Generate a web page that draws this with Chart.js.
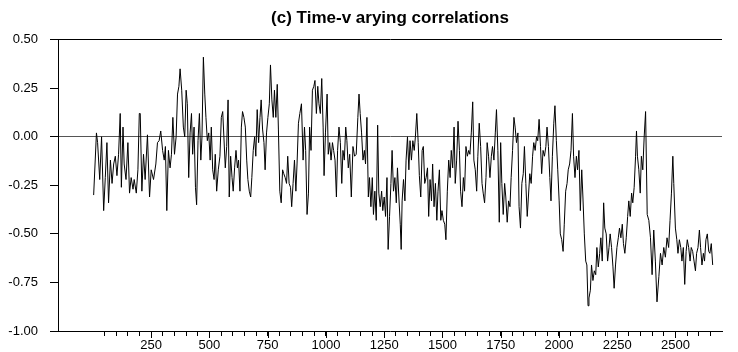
<!DOCTYPE html>
<html>
<head>
<meta charset="utf-8">
<script src="https://cdn.jsdelivr.net/npm/chart.js@4.4.0/dist/chart.umd.min.js"></script>
<style>
html, body { margin: 0; padding: 0; background: #fff; }
#wrap { width: 738px; height: 352px; }
</style>
</head>
<body>
<div id="wrap"><canvas id="chart"></canvas></div>
<script>
// observation number
const obs = [
    3, 15, 20, 29, 37, 46, 53, 60, 67, 75, 82, 89, 96, 103, 110, 117, 122, 129, 134, 142,
    150, 157, 164, 172, 177, 186, 193, 199, 203, 210, 217, 224, 234, 243, 250, 260, 270, 277, 284, 291,
    299, 306, 311, 317, 324, 331, 337, 343, 350, 357, 363, 369, 374,
    381, 388, 394, 400, 405, 411, 417, 423, 428, 434, 440, 445, 451, 457, 463, 468, 474, 480, 485, 491,
    497, 503, 508, 514, 520, 525, 531, 538, 545, 551, 557, 562, 568, 574, 580, 585, 591, 597, 602, 608,
    614, 620, 625, 631, 637, 642, 648, 654, 660, 665, 671, 677, 682, 688, 694, 699, 705, 711, 717, 722,
    728, 734, 739, 745, 751, 757, 762, 768, 774, 779, 785, 791, 796, 802, 808, 814, 819, 825, 831, 836,
    842, 848, 853, 859, 865, 871, 876, 882,
    888, 895, 902, 908, 913, 919, 925, 930, 936, 942, 948, 953, 959, 965, 970, 976, 982, 988, 992, 998,
    1005, 1010, 1016, 1022, 1028, 1033, 1039, 1045, 1050, 1056, 1062, 1068, 1073, 1079, 1085, 1090, 1096, 1102, 1109, 1116,
    1123, 1130, 1137, 1142, 1147, 1153, 1159, 1165, 1170, 1176, 1182, 1187, 1193, 1199, 1204, 1210, 1216, 1222, 1227, 1233,
    1239, 1244, 1250, 1256, 1262, 1267, 1273, 1279, 1284, 1290, 1296, 1302, 1307, 1313, 1319, 1323, 1327, 1333, 1339, 1344,
    1350, 1356, 1361, 1367, 1373, 1379, 1384, 1390, 1396,
    1401, 1407, 1413, 1418, 1424, 1430, 1436, 1441, 1447, 1453, 1458, 1464, 1470, 1476, 1481, 1487, 1493, 1498, 1504, 1510,
    1515, 1521, 1527, 1533, 1538, 1544, 1550, 1555, 1561, 1567, 1573, 1578, 1584, 1590, 1595, 1601, 1607, 1613, 1618, 1624,
    1630, 1635, 1641, 1647, 1652, 1658, 1664, 1670, 1675, 1681, 1687, 1692, 1698, 1704, 1710, 1715, 1721, 1727, 1732, 1738,
    1744, 1750, 1755, 1761, 1767, 1772, 1778, 1784, 1790, 1795, 1801, 1807, 1812, 1818, 1824, 1829, 1835, 1841, 1847, 1852,
    1858, 1864, 1869, 1875, 1881, 1887, 1892, 1898, 1904, 1909,
    1915, 1921, 1926, 1932, 1938, 1944, 1949, 1955, 1961, 1966, 1972, 1978, 1983, 1989, 1995, 2001, 2006, 2012, 2018, 2023,
    2029, 2035, 2040, 2046, 2052, 2058, 2063, 2069, 2075, 2080, 2086, 2092, 2098, 2103, 2109, 2115, 2120, 2125, 2129, 2135,
    2140, 2146, 2152, 2158, 2163, 2169, 2175, 2180, 2186, 2192, 2197, 2203, 2209, 2215, 2220, 2226, 2232, 2237, 2243, 2249,
    2255, 2260, 2266, 2272, 2277, 2283, 2289, 2295, 2300, 2306, 2312, 2317, 2323, 2329, 2333, 2337, 2343, 2349, 2354, 2360,
    2366, 2372,
    2379, 2386, 2393, 2400, 2407, 2414, 2421, 2429, 2436, 2443, 2450, 2457, 2464, 2471, 2477, 2483, 2489, 2493, 2500, 2506,
    2511, 2517, 2523, 2528, 2534, 2540, 2546, 2551, 2557, 2563, 2568, 2574, 2580, 2586, 2591, 2597, 2603, 2608, 2614, 2620,
    2625, 2631, 2637, 2643, 2648, 2654, 2660
];

// time-varying correlation
const corr = [
    -0.30, 0.02, -0.03, -0.22, 0.00, -0.38, -0.21, -0.03, -0.34, -0.12, -0.24, -0.14, -0.10, -0.20, -0.09, 0.12, -0.26, 0.05, -0.14, -0.22,
    -0.03, -0.29, -0.21, -0.27, -0.22, -0.29, -0.17, 0.12, 0.12, -0.28, -0.09, -0.22, 0.01, -0.31, -0.17, -0.22, -0.14, -0.03, -0.02, 0.03,
    -0.07, -0.12, -0.05, -0.38, -0.07, -0.16, -0.09, 0.10, -0.09, 0.00, 0.22, 0.26, 0.35,
    0.24, 0.05, 0.00, 0.24, 0.17, -0.21, 0.02, 0.12, -0.09, 0.05, -0.26, -0.35, -0.02, 0.12, -0.12, 0.00, 0.41, 0.22, 0.10, -0.02,
    0.02, -0.12, 0.05, -0.17, -0.22, -0.09, -0.28, -0.17, -0.10, 0.10, 0.13, 0.00, -0.16, -0.05, 0.19, -0.31, -0.10, -0.21, -0.28, -0.16,
    -0.07, -0.16, -0.12, -0.28, 0.05, 0.13, 0.10, 0.05, -0.12, -0.22, -0.28, -0.31, -0.21, -0.07, 0.00, -0.10, 0.14, -0.03, 0.10, 0.19,
    0.04, -0.03, -0.17, 0.02, 0.10, 0.17, 0.37, 0.19, 0.10, 0.24, 0.10, 0.27, 0.04, -0.28, -0.34, -0.17, -0.19, -0.21, -0.24, -0.10,
    -0.24, -0.26, -0.36, -0.24, -0.12, -0.28, -0.14, 0.07,
    0.12, 0.17, -0.12, 0.05, -0.07, -0.40, -0.29, 0.05, -0.07, 0.24, 0.26, 0.29, 0.12, 0.26, 0.17, 0.12, 0.30, 0.05, -0.20, 0.02,
    0.22, -0.09, -0.03, -0.12, -0.03, -0.07, -0.12, -0.31, -0.07, 0.05, -0.03, -0.24, -0.07, -0.12, 0.05, -0.02, -0.16, -0.09, -0.31, -0.05,
    -0.10, -0.09, 0.10, 0.22, 0.12, 0.02, -0.12, -0.07, -0.14, 0.10, -0.31, -0.21, -0.36, -0.21, -0.40, -0.28, -0.43, 0.06, -0.29, -0.36,
    -0.28, -0.38, -0.31, -0.41, -0.21, -0.58, -0.41, -0.24, -0.07, -0.28, -0.21, -0.34, -0.16, -0.31, -0.45, -0.58, -0.33, -0.22, -0.33, -0.12,
    0.00, -0.17, -0.02, -0.12, -0.02, -0.07, 0.00, 0.12, -0.03,
    -0.20, -0.31, -0.07, -0.05, -0.24, -0.21, -0.16, -0.41, -0.22, -0.33, -0.14, -0.36, -0.24, -0.43, -0.28, -0.17, -0.43, -0.38, -0.43, -0.45,
    -0.53, -0.28, -0.12, -0.21, -0.07, -0.16, 0.05, -0.24, -0.12, 0.08, -0.07, -0.28, -0.36, -0.21, -0.28, -0.05, -0.10, -0.07, -0.09, 0.02,
    0.18, -0.12, -0.17, -0.28, -0.10, 0.07, -0.05, -0.24, -0.29, -0.34, -0.21, -0.03, -0.10, -0.21, -0.10, -0.05, -0.12, 0.02, 0.14, -0.07,
    -0.44, -0.03, -0.24, -0.40, -0.24, -0.31, -0.44, -0.33, -0.36, -0.21, -0.07, 0.10, 0.05, -0.03, 0.02, -0.36, -0.47, -0.24, -0.19, -0.05,
    -0.24, -0.41, -0.31, -0.19, -0.24, -0.10, -0.03, -0.07, 0.00, -0.02,
    0.09, -0.05, -0.19, -0.07, -0.10, -0.05, 0.05, -0.05, -0.21, -0.33, -0.10, 0.07, 0.16, -0.02, -0.17, -0.33, -0.50, -0.53, -0.59, -0.45,
    -0.28, -0.24, -0.17, -0.14, -0.07, 0.12, -0.10, -0.21, -0.10, -0.17, -0.07, -0.38, -0.17, -0.31, -0.50, -0.64, -0.66, -0.87, -0.83, -0.79,
    -0.66, -0.74, -0.69, -0.71, -0.57, -0.67, -0.60, -0.52, -0.64, -0.34, -0.47, -0.50, -0.64, -0.57, -0.50, -0.57, -0.67, -0.78, -0.66, -0.57,
    -0.52, -0.47, -0.52, -0.45, -0.55, -0.60, -0.52, -0.41, -0.33, -0.41, -0.29, -0.34, -0.26, -0.10, 0.03, -0.10, -0.17, -0.29, -0.10, -0.17,
    0.00, 0.13,
    -0.40, -0.43, -0.52, -0.71, -0.48, -0.64, -0.85, -0.72, -0.60, -0.66, -0.57, -0.62, -0.52, -0.57, -0.43, -0.29, -0.10, -0.24, -0.47, -0.53,
    -0.60, -0.53, -0.57, -0.64, -0.57, -0.76, -0.59, -0.53, -0.57, -0.64, -0.57, -0.59, -0.64, -0.69, -0.60, -0.57, -0.48, -0.57, -0.66, -0.60,
    -0.64, -0.53, -0.50, -0.59, -0.60, -0.55, -0.66
];

const xLabels = [250, 500, 750, 1000, 1250, 1500, 1750, 2000, 2250, 2500];
const titleText = '(c) Time-v arying correlations';

const points = obs.map((x, i) => ({ x: x, y: corr[i] }));

// longer tick marks under the labelled values
const majorTicks = {
    id: 'majorTicks',
    afterDraw(chart) {
        const xs = chart.scales.x;
        const c = chart.ctx;
        c.save();
        c.strokeStyle = '#000';
        c.lineWidth = 1;
        xLabels.forEach(v => {
            const px = Math.round(xs.getPixelForValue(v)) + 0.5;
            c.beginPath();
            c.moveTo(px, xs.top);
            c.lineTo(px, xs.top + 7);
            c.stroke();
        });
        c.restore();
    }
};

const ctx = document.getElementById('chart').getContext('2d');

new Chart(ctx, {
    type: 'line',
    data: {
        datasets: [{
            data: points,
            borderColor: '#000',
            borderWidth: 1,
            pointRadius: 0,
            tension: 0,
            fill: false
        }]
    },
    options: {
        responsive: true,
        maintainAspectRatio: false,
        animation: false,
        layout: { padding: { left: 0, right: 16, top: 0, bottom: 0 } },
        plugins: {
            legend: { display: false },
            tooltip: { enabled: false },
            title: {
                display: true,
                text: titleText,
                fullSize: false,
                color: '#000',
                font: { family: 'Liberation Sans', size: 17, weight: 'bold', lineHeight: 1.1 },
                padding: { top: 9, bottom: 12 }
            }
        },
        scales: {
            x: {
                type: 'linear',
                min: -150,
                max: 2700,
                afterFit: s => { s.height = 21; },
                border: { display: true, color: '#000', width: 1 },
                grid: {
                    drawOnChartArea: false,
                    drawTicks: true,
                    tickLength: 5,
                    tickColor: c => (c.tick && c.tick.value >= 50 && c.tick.value <= 2650) ? '#000' : 'rgba(0,0,0,0)'
                },
                ticks: {
                    stepSize: 50,
                    autoSkip: false,
                    maxRotation: 0,
                    padding: 2,
                    color: '#000',
                    font: { family: 'Liberation Sans', size: 13 },
                    callback: v => xLabels.includes(v) ? String(v) : ''
                }
            },
            y: {
                min: -1,
                max: 0.5,
                afterFit: s => { s.width = 58; },
                border: { display: true, color: '#000', width: 1 },
                grid: {
                    drawTicks: true,
                    tickLength: 8,
                    tickColor: '#000',
                    color: c => {
                        if (!c.tick) return 'rgba(0,0,0,0)';
                        if (c.tick.value === 0) return '#555';
                        if (c.tick.value === 0.5) return '#000';
                        return 'rgba(0,0,0,0)';
                    }
                },
                ticks: {
                    stepSize: 0.25,
                    padding: 12,
                    color: '#000',
                    font: { family: 'Liberation Sans', size: 13 },
                    callback: v => v.toFixed(2)
                }
            }
        }
    },
    plugins: [majorTicks]
});
</script>
</body>
</html>
